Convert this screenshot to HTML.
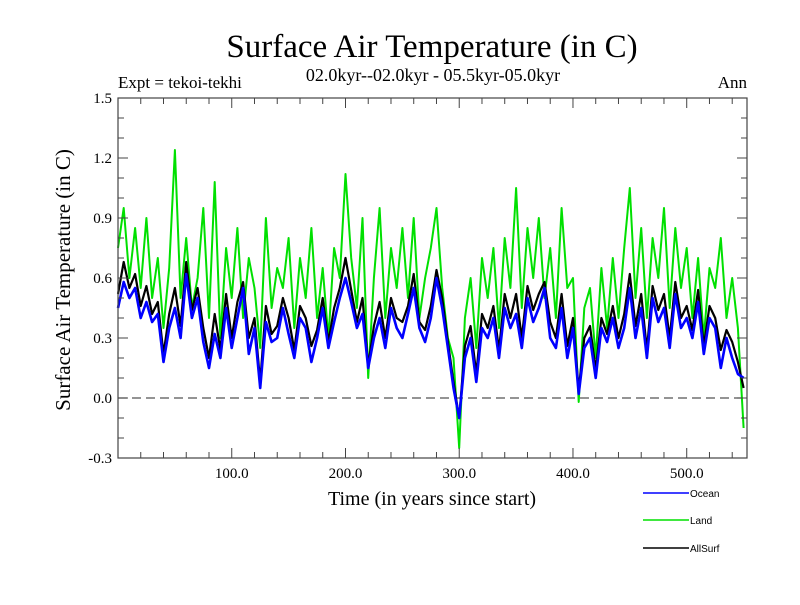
<!DOCTYPE html>
<html><head><meta charset="utf-8"><style>
body{margin:0;background:#fff}
svg text{font-family:"Liberation Serif",serif}
</style></head><body>
<svg id="chart" width="800" height="600" xmlns="http://www.w3.org/2000/svg">
<text x="432" y="57" font-size="33" text-anchor="middle">Surface Air Temperature (in C)</text>
<text x="433" y="81" font-size="18" text-anchor="middle">02.0kyr--02.0kyr - 05.5kyr-05.0kyr</text>
<text x="118" y="88" font-size="17">Expt = tekoi-tekhi</text>
<text x="747" y="88" font-size="17" text-anchor="end">Ann</text>
<text x="432" y="505" font-size="20" text-anchor="middle">Time (in years since start)</text>
<text transform="translate(70,280) rotate(-90)" font-size="21" text-anchor="middle">Surface Air Temperature (in C)</text>
<g id="series"></g>
<g id="axes"></g>
<g id="legend"></g>
</svg>
<script>
const years = [];
for (let i = 0; i <= 110; i++) years.push(i * 5);
const ocean = [.45,.58,.50,.55,.40,.48,.38,.42,.18,.35,
.45,.30,.62,.40,.50,.28,.15,.32,.20,.45,
.25,.40,.55,.22,.35,.05,.38,.28,.30,.45,
.32,.20,.40,.35,.18,.30,.45,.25,.38,.50,
.60,.48,.35,.42,.15,.30,.40,.25,.45,.35,
.30,.42,.55,.35,.28,.40,.60,.45,.25,.05,
-.10,.20,.30,.08,.35,.30,.40,.20,.45,.35,
.42,.25,.50,.38,.45,.55,.30,.25,.45,.20,
.35,.02,.25,.30,.10,.35,.28,.40,.25,.35,
.55,.30,.45,.20,.50,.38,.45,.25,.52,.35,
.40,.30,.48,.22,.40,.35,.15,.30,.20,.12,.10];
const land = [.75,.95,.60,.85,.55,.90,.50,.70,.35,.65,
1.24,.50,.80,.45,.60,.95,.40,1.08,.30,.75,
.50,.85,.40,.70,.55,.25,.90,.45,.65,.55,
.80,.35,.70,.50,.85,.40,.65,.30,.75,.60,
1.12,.70,.45,.90,.10,.60,.95,.40,.75,.55,
.85,.50,.90,.40,.60,.75,.95,.55,.30,.20,
-.25,.40,.60,.25,.70,.50,.75,.35,.80,.55,
1.05,.45,.85,.60,.90,.50,.75,.40,.95,.55,
.60,-.02,.45,.55,.20,.65,.35,.70,.40,.75,
1.05,.50,.85,.40,.80,.60,.95,.45,.85,.55,
.75,.40,.70,.30,.65,.55,.80,.40,.60,.35,-.15];
const allsurf = [.52,.68,.55,.62,.46,.56,.42,.48,.22,.42,
.55,.36,.68,.44,.55,.35,.20,.42,.24,.52,
.30,.48,.58,.30,.40,.08,.46,.32,.36,.50,
.40,.24,.46,.40,.26,.34,.50,.28,.45,.55,
.70,.54,.38,.50,.16,.36,.48,.30,.50,.40,
.38,.46,.62,.38,.34,.46,.64,.50,.28,.08,
-.10,.26,.36,.12,.42,.35,.46,.24,.52,.40,
.52,.30,.56,.44,.52,.58,.38,.30,.52,.26,
.40,.04,.30,.36,.14,.40,.32,.46,.30,.42,
.62,.36,.52,.24,.56,.44,.52,.30,.58,.40,
.46,.34,.54,.26,.46,.40,.24,.34,.28,.18,.05];
const xTicks = [100,200,300,400,500];
const xTickLabels = ["100.0","200.0","300.0","400.0","500.0"];
const yTicks = [-0.3,0,0.3,0.6,0.9,1.2,1.5];
const yTickLabels = ["-0.3","0.0","0.3","0.6","0.9","1.2","1.5"];

const L=118,R=747,T=98,B=458, xmin=0,xmax=553, ymin=-0.3,ymax=1.5;
const X=v=>L+(v-xmin)/(xmax-xmin)*(R-L);
const Y=v=>B-(v-ymin)/(ymax-ymin)*(B-T);
const NS="http://www.w3.org/2000/svg";
function mk(tag,attrs,parent){const e=document.createElementNS(NS,tag);for(const k in attrs)e.setAttribute(k,attrs[k]);parent.appendChild(e);return e;}
const sg=document.getElementById('series'), ag=document.getElementById('axes'), lg=document.getElementById('legend');

const zl=mk('line',{x1:L,x2:R,y1:Y(0),y2:Y(0),stroke:'#555','stroke-width':1.3,'stroke-dasharray':'9,5'},sg);



function series(vals,color,w,name){
  const d=vals.map((v,i)=>(i?'L':'M')+X(years[i]).toFixed(1)+','+Y(v).toFixed(1)).join(' ');
  const p=mk('path',{d:d,fill:'none',stroke:color,'stroke-width':w,'stroke-linejoin':'round'},sg);
  
  
}
series(land,'#00e000',2,'land-line');
series(allsurf,'#000',2.2,'allsurf-line');
series(ocean,'#0000ff',2.6,'ocean-line');

const fr=mk('rect',{x:L,y:T,width:R-L,height:B-T,fill:'none',stroke:'#444','stroke-width':1.2},ag);


for(let v=20;v<xmax;v+=20){
  const maj=xTicks.includes(v), len=maj?10:6, x=X(v);
  mk('line',{x1:x,x2:x,y1:B,y2:B-len,stroke:'#444'},ag);
  mk('line',{x1:x,x2:x,y1:T,y2:T+len,stroke:'#444'},ag);
}
xTicks.forEach((v,i)=>{
  const t=mk('text',{x:X(v),y:B+20,'font-size':15,'text-anchor':'middle'},ag);
  t.textContent=xTickLabels[i];
  
  
});
for(let k=-2;k<=14;k++){
  const v=k/10, y=Y(v), maj=(k%3===0), len=maj?10:6;
  mk('line',{x1:L,x2:L+len,y1:y,y2:y,stroke:'#444'},ag);
  mk('line',{x1:R,x2:R-len,y1:y,y2:y,stroke:'#444'},ag);
}
yTicks.forEach((v,i)=>{
  const t=mk('text',{x:L-6,y:Y(v)+5,'font-size':15,'text-anchor':'end'},ag);
  t.textContent=yTickLabels[i];
  
  
});
[['Ocean','#0000ff',493],['Land','#00e000',520],['AllSurf','#000',548]].forEach(([n,c,y])=>{
  const ln=mk('line',{x1:643,x2:689,y1:y,y2:y,stroke:c,'stroke-width':1.5},lg);
  
  
  const t=mk('text',{x:690,y:y+4,'font-size':10,style:'font-family:"Liberation Sans",sans-serif'},lg);
  t.textContent=n;
  
  
});
</script>
</body></html>
